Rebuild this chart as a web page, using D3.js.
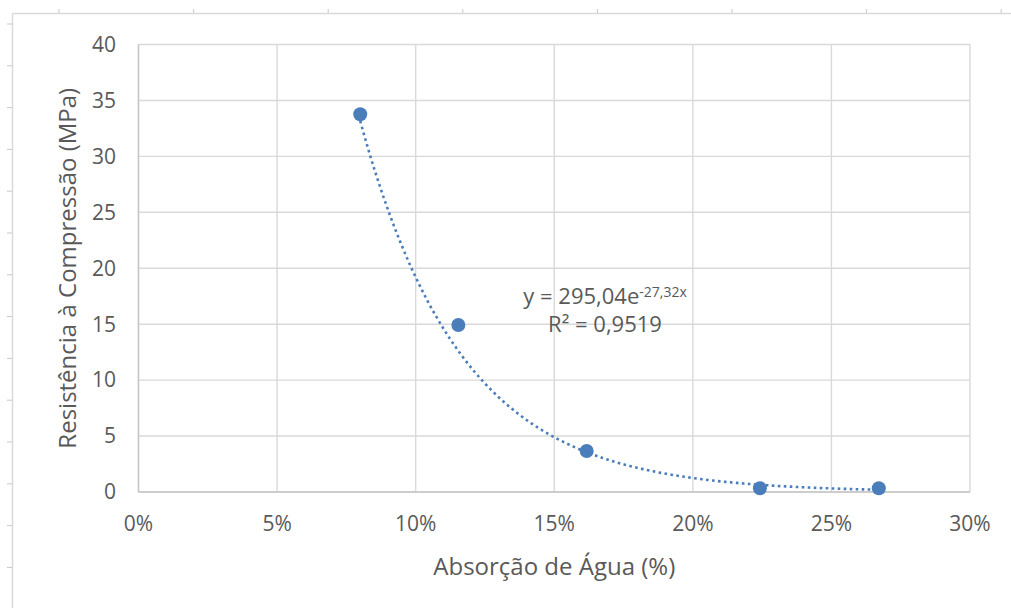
<!DOCTYPE html>
<html>
<head>
<meta charset="utf-8">
<script src="https://cdn.jsdelivr.net/npm/d3@7"></script>
<style>
  body { margin: 0; background: #fff; }
  text { font-family: "Open Sans", "Noto Sans", sans-serif; fill: #595959; }
</style>
</head>
<body>
<div id="chart"></div>
<script>
// data
const absorcao = [0.080, 0.1154, 0.1617, 0.2242, 0.2671];
const resistencia = [33.77, 14.93, 3.66, 0.33, 0.33];
const xTicks = [0, 0.05, 0.10, 0.15, 0.20, 0.25, 0.30];
const yTicks = [0, 5, 10, 15, 20, 25, 30, 35, 40];
// trendline coefficients shown on the chart: y = a * e^(b x)
const trendA = 295.04, trendB = -27.32;
const trendLabel = ["y = 295,04e", "-27,32x"];
const r2Label = "R² = 0,9519";

const width = 1011, height = 608;
const margin = {left: 138.5, right: 41, top: 44.5, bottom: 116};
const blue = "#4a7ebb";

const svg = d3.select("#chart").append("svg")
    .attr("width", width)
    .attr("height", height);

// spreadsheet cell borders behind the chart
svg.append("line").attr("x1", 12.5).attr("x2", width).attr("y1", 13.5).attr("y2", 13.5)
    .attr("stroke", "#d9d9d9").attr("stroke-width", 1.5);
svg.append("line").attr("x1", 12.5).attr("x2", 12.5).attr("y1", 13.5).attr("y2", height)
    .attr("stroke", "#d9d9d9").attr("stroke-width", 1.5);
d3.range(59, width, 134.6).forEach(x => {
    svg.append("line").attr("x1", x).attr("x2", x).attr("y1", 9).attr("y2", 13)
        .attr("stroke", "#c8c8c8");
});
d3.range(24, height, 41.8).forEach(y => {
    svg.append("line").attr("x1", 7).attr("x2", 12).attr("y1", y).attr("y2", y)
        .attr("stroke", "#c8c8c8");
});

const x = d3.scaleLinear().domain([0, 0.30]).range([margin.left, width - margin.right]);
const y = d3.scaleLinear().domain([0, 40]).range([height - margin.bottom, margin.top]);

// gridlines
svg.append("g").selectAll("line").data(yTicks).join("line")
    .attr("x1", margin.left).attr("x2", width - margin.right)
    .attr("y1", d => y(d)).attr("y2", d => y(d))
    .attr("stroke", "#d9d9d9").attr("stroke-width", 1.4);
svg.append("g").selectAll("line").data(xTicks).join("line")
    .attr("x1", d => x(d)).attr("x2", d => x(d))
    .attr("y1", y(0)).attr("y2", y(40))
    .attr("stroke", "#d9d9d9").attr("stroke-width", 1.4);

// axis lines
svg.append("line").attr("x1", margin.left).attr("x2", width - margin.right)
    .attr("y1", y(0)).attr("y2", y(0)).attr("stroke", "#c6c6c6").attr("stroke-width", 1.4);
svg.append("line").attr("x1", margin.left).attr("x2", margin.left)
    .attr("y1", y(0)).attr("y2", y(40)).attr("stroke", "#c6c6c6").attr("stroke-width", 1.4);

// tick labels
svg.append("g").selectAll("text").data(yTicks).join("text")
    .attr("x", 116).attr("y", d => y(d))
    .attr("dy", "0.35em")
    .attr("text-anchor", "end")
    .style("font-size", "21px")
    .text(d => d);
svg.append("g").selectAll("text").data(xTicks).join("text")
    .attr("x", d => x(d)).attr("y", 524)
    .attr("dy", "0.35em")
    .attr("text-anchor", "middle")
    .style("font-size", "21px")
    .text(d => d3.format(".0%")(d));

// axis titles
svg.append("text")
    .attr("x", (margin.left + width - margin.right) / 2).attr("y", 567)
    .attr("dy", "0.35em").attr("text-anchor", "middle")
    .style("font-size", "24px")
    .text("Absorção de Água (%)");
svg.append("text")
    .attr("transform", `translate(68,${(y(0) + y(40)) / 2}) rotate(-90)`)
    .attr("dy", "0.35em").attr("text-anchor", "middle")
    .style("font-size", "24px")
    .text("Resistência à Compressão (MPa)");

// exponential trendline
const [xMin, xMax] = d3.extent(absorcao);
const trend = d3.range(0, 201).map(i => {
    const v = xMin + (xMax - xMin) * i / 200;
    return [v, trendA * Math.exp(trendB * v)];
});
svg.append("path")
    .datum(trend)
    .attr("fill", "none")
    .attr("stroke", blue)
    .attr("stroke-width", 2.6)
    .attr("stroke-dasharray", "2.6,3.4")
    .attr("d", d3.line().x(d => x(d[0])).y(d => y(d[1])));

// points
svg.append("g").selectAll("circle").data(absorcao).join("circle")
    .attr("cx", d => x(d))
    .attr("cy", (d, i) => y(resistencia[i]))
    .attr("r", 7)
    .attr("fill", blue);

// trendline label
const eq = svg.append("text")
    .attr("x", 605).attr("y", 296)
    .attr("dy", "0.35em").attr("text-anchor", "middle")
    .style("font-size", "22px");
eq.append("tspan").text(trendLabel[0]);
eq.append("tspan").attr("dy", "-0.5em").style("font-size", "14px").text(trendLabel[1]);
svg.append("text")
    .attr("x", 605).attr("y", 324)
    .attr("dy", "0.35em").attr("text-anchor", "middle")
    .style("font-size", "22px")
    .text(r2Label);
</script>
</body>
</html>
